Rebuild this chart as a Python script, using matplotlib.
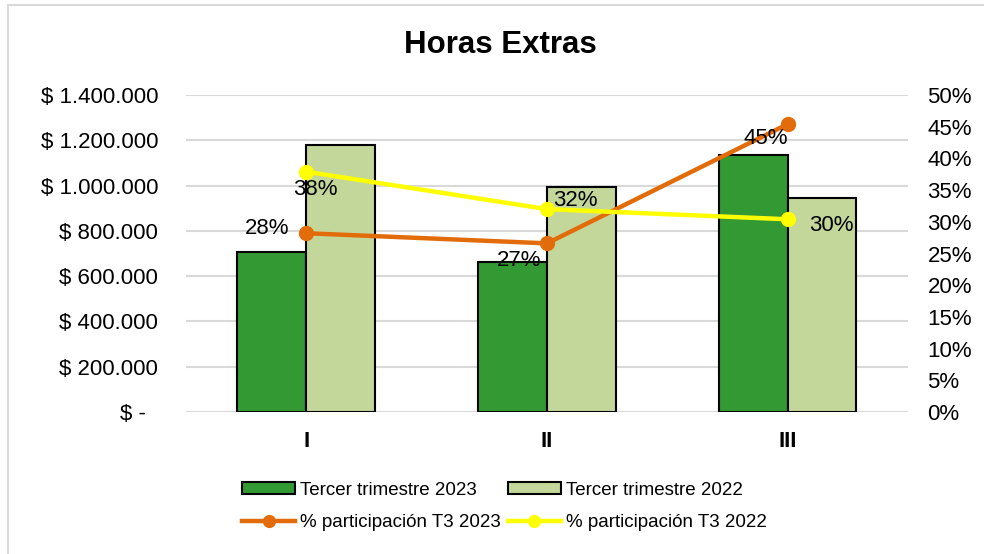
import numpy as np
from matplotlib import pyplot as plt
from matplotlib.patches import Rectangle
from matplotlib.ticker import FuncFormatter, MultipleLocator

plt.rcParams['font.family'] = ['Liberation Sans', 'DejaVu Sans']

# Data
trimestres = ['I', 'II', 'III']
t3_2023 = [706000, 663000, 1135000]
t3_2022 = [1179000, 994000, 944000]
part_2023 = [0.282, 0.266, 0.454]
part_2022 = [0.379, 0.320, 0.304]

c_dark = '#339933'
c_light = '#C4D79B'
c_orange = '#E36C0A'
c_yellow = '#FFFF00'
c_grid = '#D9D9D9'


def money_fmt(v, pos):
    if v == 0:
        return '$ -  '
    return '$ ' + f'{int(v):,}'.replace(',', '.')


def pct_fmt(v, pos):
    return f'{v * 100:.0f}%'


fig = plt.figure(figsize=(9.84, 5.54), dpi=100)
ax = fig.add_axes([0.189, 0.2563, 0.7337, 0.5722])
ax2 = ax.twinx()

x = np.arange(len(trimestres))
w = 0.286

b1 = ax.bar(x - w / 2, t3_2023, width=w, color=c_dark, edgecolor='black',
            linewidth=1.5, label='Tercer trimestre 2023', zorder=3)
b2 = ax.bar(x + w / 2, t3_2022, width=w, color=c_light, edgecolor='black',
            linewidth=1.5, label='Tercer trimestre 2022', zorder=3)

ax.set_xlim(-0.5, 2.5)
ax.set_ylim(0, 1400000)
ax.yaxis.set_major_locator(MultipleLocator(200000))
ax.yaxis.set_major_formatter(FuncFormatter(money_fmt))
ax.grid(axis='y', color=c_grid, linewidth=1.5, zorder=0)
ax.set_axisbelow(True)
ax.set_xticks(x)
ax.set_xticklabels(trimestres, fontsize=16, fontweight='bold')
ax.tick_params(axis='x', length=0, pad=14)
ax.tick_params(axis='y', length=0, pad=20, labelsize=16)
for s in ax.spines.values():
    s.set_visible(False)

l1, = ax2.plot(x, part_2023, color=c_orange, linewidth=3.2, marker='o',
               markersize=10, label='% participación T3 2023', zorder=4)
l2, = ax2.plot(x, part_2022, color=c_yellow, linewidth=3.2, marker='o',
               markersize=10, label='% participación T3 2022', zorder=4)
ax2.set_ylim(0, 0.5)
ax2.yaxis.set_major_locator(MultipleLocator(0.05))
ax2.yaxis.set_major_formatter(FuncFormatter(pct_fmt))
ax2.tick_params(axis='y', length=0, pad=14, labelsize=16)
for s in ax2.spines.values():
    s.set_visible(False)

# data labels (pixel offsets converted to points)
off_2023 = [(-39, 5), (-28, -17), (-22, -14)]
off_2022 = [(9, -18), (28, 9), (44, -6)]
for i in range(len(x)):
    dx, dy = off_2023[i]
    ax2.annotate(pct_fmt(part_2023[i], None), (x[i], part_2023[i]),
                 xytext=(dx * 0.72, dy * 0.72), textcoords='offset points',
                 ha='center', va='center', fontsize=16, zorder=6)
    dx, dy = off_2022[i]
    ax2.annotate(pct_fmt(part_2022[i], None), (x[i], part_2022[i]),
                 xytext=(dx * 0.72, dy * 0.72), textcoords='offset points',
                 ha='center', va='center', fontsize=16, zorder=6)

fig.text(500 / 984, 1 - 45 / 554, 'Horas Extras', ha='center', va='center',
         fontsize=22.5, fontweight='bold')

# legend: 2 columns, bars on the first row, lines on the second
fig.legend([b1, l1, b2, l2],
           [b1.get_label(), l1.get_label(), b2.get_label(), l2.get_label()],
           ncol=2, loc='center', frameon=False, fontsize=13.5,
           handlelength=2.83, handleheight=0.55, handletextpad=0.27,
           columnspacing=0.37, labelspacing=0.85, markerscale=0.85,
           bbox_to_anchor=(504.5 / 984, 1 - 506.5 / 554))

# chart border
fig.patches.append(Rectangle((8 / 984, -0.1), 1.2, 1.1 - 5 / 554,
                             transform=fig.transFigure, fill=False,
                             edgecolor=c_grid, linewidth=1.5))

plt.savefig('out.png', dpi=100)
